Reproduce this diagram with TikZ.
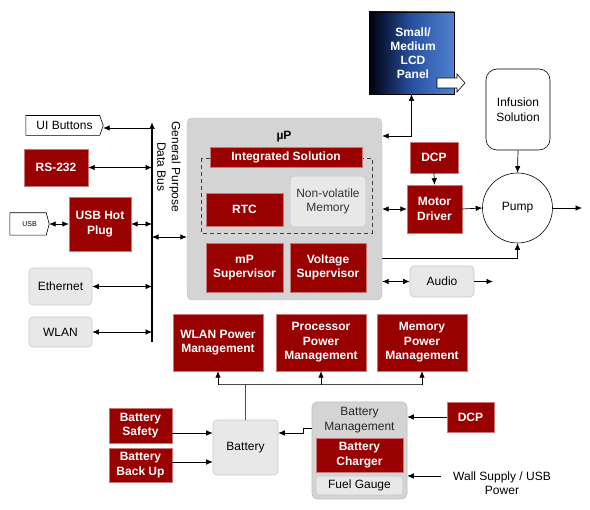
\documentclass[tikz,border=0pt]{standalone}
\usepackage{fontspec}
\setmainfont{Liberation Sans}
\usetikzlibrary{arrows.meta,calc}
\definecolor{dred}{RGB}{153,0,0}
\definecolor{redline}{RGB}{200,120,120}
\definecolor{lgray}{RGB}{232,232,232}
\definecolor{lgrayline}{RGB}{200,200,200}
\definecolor{bgray}{RGB}{212,212,212}
\definecolor{bgrayline}{RGB}{190,190,190}
\definecolor{lcdblue}{RGB}{80,130,210}
\definecolor{lcdmid}{RGB}{40,80,160}
\begin{document}
\begin{tikzpicture}[x=1pt,y=-1pt,
  font=\fontsize{12}{14.5}\selectfont,
  redbox/.style={draw=redline,line width=0.4pt,fill=dred,text=white,font=\fontsize{12}{14.5}\selectfont\bfseries,align=center,inner sep=0pt},
  graybox/.style={draw=lgrayline,line width=0.6pt,fill=lgray,rounded corners=4pt,align=center,inner sep=0pt},
  plain/.style={align=center,inner sep=0pt},
  arr/.style={line width=0.7pt,-{Latex[length=6.5pt,width=5.5pt]}},
  biarr/.style={line width=0.7pt,{Latex[length=6.5pt,width=5.5pt]}-{Latex[length=6.5pt,width=5.5pt]}},
  ln/.style={line width=0.6pt}]
\useasboundingbox (0,0) rectangle (590,510);

% ---------- left side ----------
\coordinate (bustop) at (152,122);
\coordinate (busbot) at (152,342);
\draw[line width=2.4pt,-{Latex[length=7pt,width=6pt]}] (busbot) -- (bustop);
\node[plain,rotate=-90] (gpdb) at (169,167) {General Purpose\\Data Bus};

\node[plain,minimum width=77pt,minimum height=19.5pt] (ui) at (64.5,125.5) {UI Buttons};
\draw[ln] (ui.north west) -- ($(ui.north east)+(-3.5,0)$) -- (ui.east) -- ($(ui.south east)+(-3.5,0)$) -- (ui.south west) -- cycle;
\coordinate (uiy) at (0,128);
\draw[arr] (bustop |- uiy) -- (ui.east |- uiy);

\node[redbox,minimum width=64pt,minimum height=37pt] (rs) at (56,167.5) {RS-232};
\draw[biarr] (rs.east) -- (rs.east -| bustop);

\node[redbox,minimum width=62pt,minimum height=54pt] (usbhp) at (100,224) {USB Hot\\Plug};
\draw[biarr] (usbhp.east) -- (usbhp.east -| bustop);

\node[plain,minimum width=39pt,minimum height=22pt,font=\fontsize{7}{8}\selectfont] (usb) at (29.5,224) {USB};
\draw[ln] (usb.north west) -- ($(usb.north east)+(-3,0)$) -- (usb.east) -- ($(usb.south east)+(-3,0)$) -- (usb.south west) -- cycle;
\draw[biarr] (usb.east) -- (usbhp.west);

\node[graybox,minimum width=63pt,minimum height=37pt] (eth) at (60.5,286.5) {Ethernet};
\draw[biarr] (eth.east) -- (eth.east -| bustop);
\node[graybox,minimum width=63pt,minimum height=30pt] (wlan) at (60.5,332) {WLAN};
\draw[biarr] (wlan.east) -- (wlan.east -| bustop);

% ---------- microprocessor ----------
\node[draw=bgrayline,fill=bgray,rounded corners=5pt,minimum width=195pt,minimum height=182pt,inner sep=0pt] (mup) at (284.5,209) {};
\node[plain,font=\fontsize{12}{14.5}\selectfont\bfseries] (mulabel) at (284,137) {µP};
\draw[line width=0.7pt,dashed,dash pattern=on 4pt off 3pt,draw=black!75] (201,158) rectangle (372,233);
\node[redbox,minimum width=152pt,minimum height=20pt] (integ) at (286,157) {Integrated Solution};
\node[redbox,minimum width=77pt,minimum height=33pt] (rtc) at (244.5,209.5) {RTC};
\node[graybox,minimum width=76pt,minimum height=51pt,text=black!80] (nvm) at (328,201.5) {Non-volatile\\Memory};
\node[redbox,minimum width=77pt,minimum height=49pt] (mps) at (244.5,267.5) {mP\\Supervisor};
\node[redbox,minimum width=76pt,minimum height=49pt] (vs) at (328,267.5) {Voltage\\Supervisor};
\coordinate (busy) at (152,237);
\draw[biarr] (busy) -- (mup.west |- busy);

% ---------- right side ----------
\node[draw=black,line width=0.6pt,shading=axis,left color=black!95!blue,right color=lcdblue,middle color=lcdmid,minimum width=85pt,minimum height=82pt,inner sep=0pt] (lcd) at (411.5,53) {};
\node[plain,text=white,font=\fontsize{12}{14}\selectfont\bfseries] (lcdtxt) at (413,53) {Small/\\Medium\\LCD\\Panel};
\draw[line width=0.6pt,fill=white] (437,78) -- (457,78) -- (457,74) -- (465,83) -- (457,92) -- (457,88) -- (437,88) -- cycle;
\coordinate (lcdy) at (0,136);
\draw[biarr] (mup.east |- lcdy) -| (lcd.south);

\node[draw,line width=0.6pt,rounded corners=11pt,minimum width=64pt,minimum height=81pt,align=center,inner sep=0pt] (inf) at (518,109.5) {Infusion\\Solution};
\node[redbox,minimum width=48pt,minimum height=31pt] (dcpa) at (434,157.5) {DCP};
\node[redbox,minimum width=55pt,minimum height=48pt] (motor) at (434.5,209) {Motor\\Driver};
\node[draw,circle,line width=0.6pt,minimum size=70pt,inner sep=0pt] (pump) at (517.5,208) {Pump};
\node[graybox,minimum width=64pt,minimum height=31pt] (audio) at (442,281.5) {Audio};
\coordinate (pumpout) at (582,208);
\coordinate (audioout) at (493,281.5);
\coordinate (pumpy) at (0,258);

\draw[arr] (dcpa.south) -- (motor.north);
\draw[biarr] (mup.east |- motor.west) -- (motor.west);
\draw[arr] (motor.east) -- (pump.west);
\draw[arr] (inf.south) -- (pump.north);
\draw[arr] (pump.east) -- (pumpout);
\draw[arr] (mup.east |- pumpy) -| (pump.south);
\draw[biarr] (mup.east |- audio.west) -- (audio.west);
\draw[arr] (audio.east) -- (audioout);

% ---------- power ----------
\node[redbox,minimum width=90pt,minimum height=57pt] (wpm) at (218,342.5) {WLAN Power\\Management};
\node[redbox,minimum width=90pt,minimum height=57pt] (ppm) at (321,342.5) {Processor\\Power\\Management};
\node[redbox,minimum width=90pt,minimum height=57pt] (mpm) at (422,342.5) {Memory\\Power\\Management};

\node[graybox,minimum width=65pt,minimum height=55pt] (bat) at (245.5,447.5) {Battery};
\node[redbox,minimum width=63pt,minimum height=35pt] (bs) at (140.5,425.5) {Battery\\Safety};
\node[redbox,minimum width=63pt,minimum height=34pt] (bbu) at (140.5,465) {Battery\\Back Up};

\node[draw=bgrayline,fill=bgray,rounded corners=5pt,line width=0.6pt,minimum width=95pt,minimum height=97pt,inner sep=0pt] (bm) at (359.5,450.5) {};
\node[plain,text=black!85] (bmtxt) at (359.5,420) {Battery\\Management};
\node[redbox,minimum width=87pt,minimum height=34pt] (chg) at (359.5,455) {Battery\\Charger};
\node[graybox,rounded corners=3pt,minimum width=87pt,minimum height=19pt] (fuel) at (359.5,485.5) {Fuel Gauge};
\node[redbox,minimum width=47pt,minimum height=30pt] (dcpb) at (470.5,417) {DCP};
\node[plain] (wall) at (502,483) {Wall Supply / USB\\Power};

\coordinate (pwry) at (0,385);
\draw[line width=1pt,draw=black!70] (bat.north) -- (bat.north |- pwry);
\draw[line width=1pt,draw=black!70] (wpm.south |- pwry) -- (mpm.south |- pwry);
\draw[arr] (wpm.south |- pwry) -- (wpm.south);
\draw[arr] (ppm.south |- pwry) -- (ppm.south);
\draw[arr] (mpm.south |- pwry) -- (mpm.south);

\coordinate (bsy) at (0,433);
\coordinate (bby) at (0,462);
\coordinate (bmy) at (0,428);
\coordinate (stepx) at (303,0);
\coordinate (wally) at (441,476);
\draw[arr] (bs.east |- bsy) -- (bat.west |- bsy);
\draw[arr] (bbu.east |- bby) -- (bat.west |- bby);
\draw[arr] (bm.west |- bmy) -- (stepx |- bmy) -- (stepx |- bsy) -- (bat.east |- bsy);
\draw[arr] (dcpb.west) -- (bm.east |- dcpb.west);
\draw[arr] (wally) -- (bm.east |- wally);
\end{tikzpicture}
\end{document}
